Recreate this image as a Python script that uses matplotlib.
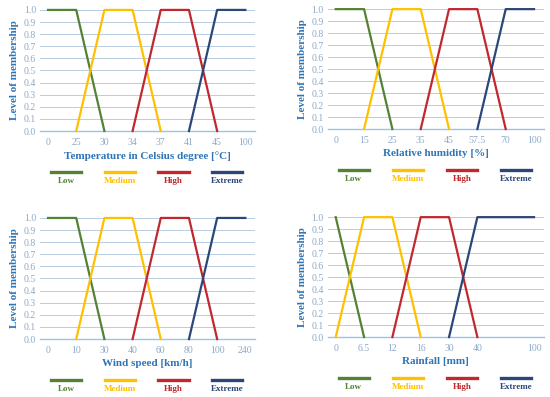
import matplotlib
matplotlib.use("Agg")
import matplotlib.pyplot as plt

# categories on x (equally spaced in the original), blank = empty slot
temp_ticks = ['0', '25', '30', '34', '37', '41', '45', '100']
hum_ticks = ['0', '15', '25', '35', '45', '57.5', '70', '100']
wind_ticks = ['0', '10', '30', '40', '60', '80', '100', '240']
rain_ticks = ['0', '6.5', '12', '16', '30', '40', '', '100']

# membership functions: (x category, level)
temp_low = [('0', 1), ('25', 1), ('30', 0)]
temp_med = [('25', 0), ('30', 1), ('34', 1), ('37', 0)]
temp_high = [('34', 0), ('37', 1), ('41', 1), ('45', 0)]
temp_ext = [('41', 0), ('45', 1), ('100', 1)]

hum_low = [('0', 1), ('15', 1), ('25', 0)]
hum_med = [('15', 0), ('25', 1), ('35', 1), ('45', 0)]
hum_high = [('35', 0), ('45', 1), ('57.5', 1), ('70', 0)]
hum_ext = [('57.5', 0), ('70', 1), ('100', 1)]

wind_low = [('0', 1), ('10', 1), ('30', 0)]
wind_med = [('10', 0), ('30', 1), ('40', 1), ('60', 0)]
wind_high = [('40', 0), ('60', 1), ('80', 1), ('100', 0)]
wind_ext = [('80', 0), ('100', 1), ('240', 1)]

rain_low = [('0', 1), ('6.5', 0)]
rain_med = [('0', 0), ('6.5', 1), ('12', 1), ('16', 0)]
rain_high = [('12', 0), ('16', 1), ('30', 1), ('40', 0)]
rain_ext = [('30', 0), ('40', 1), ('100', 1)]

series_names = ['Low', 'Medium', 'High', 'Extreme']
colors = ['#548235', '#FFC000', '#C0282D', '#2B4778']

panels = [
    (temp_ticks, [temp_low, temp_med, temp_high, temp_ext], 'Temperature in Celsius degree [°C]',
     [0.073, 0.670, 0.391, 0.305]),
    (hum_ticks, [hum_low, hum_med, hum_high, hum_ext], 'Relative humidity [%]',
     [0.596, 0.675, 0.393, 0.302]),
    (wind_ticks, [wind_low, wind_med, wind_high, wind_ext], 'Wind speed [km/h]',
     [0.073, 0.146, 0.391, 0.305]),
    (rain_ticks, [rain_low, rain_med, rain_high, rain_ext], 'Rainfall [mm]',
     [0.596, 0.151, 0.393, 0.302]),
]

font = 'Liberation Serif'
label_blue = '#2E75B6'
tick_col = '#8DA9C8'

fig = plt.figure(figsize=(5.5, 3.97), dpi=100)

for ticks, series, xlabel, pos in panels:
    ax = fig.add_axes(pos)
    for s, c in zip(series, colors):
        xs = [ticks.index(k) for k, v in s]
        ys = [v for k, v in s]
        ax.plot(xs, ys, color=c, lw=1.6, clip_on=False, zorder=3)
    ax.set_xlim(-0.28, len(ticks) - 1 + 0.35)
    ax.set_ylim(0, 1.0)
    ax.set_yticks([i / 10 for i in range(11)])
    ax.set_yticklabels(['%.1f' % (i / 10) for i in range(11)])
    ax.set_xticks(range(len(ticks)))
    ax.set_xticklabels(ticks)
    ax.tick_params(length=0, labelsize=7, labelcolor=tick_col, pad=3)
    ax.tick_params(axis='x', pad=5)
    for lab in ax.get_xticklabels() + ax.get_yticklabels():
        lab.set_family(font)
    ax.grid(axis='y', color='#B9CCE0', lw=0.7)
    ax.grid(axis='x', visible=False)
    for sp in ['top', 'right', 'left']:
        ax.spines[sp].set_visible(False)
    ax.spines['bottom'].set_color('#9DC3E6')
    ax.spines['bottom'].set_linewidth(1.0)
    ax.set_xlabel(xlabel, family=font, fontweight='bold', fontsize=8, color=label_blue, labelpad=3)
    ax.set_ylabel('Level of membership', family=font, fontweight='bold', fontsize=8,
                  color=label_blue, labelpad=3)
    # legend below: line with label underneath
    for i, (name, c) in enumerate(zip(series_names, colors)):
        cx = 0.12 + 0.25 * i
        ax.plot([cx - 0.07, cx + 0.07], [-0.34, -0.34], color=c, lw=2.4,
                transform=ax.transAxes, clip_on=False)
        ax.text(cx, -0.415, name, color=c, fontsize=6.5, family=font, fontweight='bold',
                ha='center', va='center', transform=ax.transAxes)

fig.savefig('out.png', dpi=100)
